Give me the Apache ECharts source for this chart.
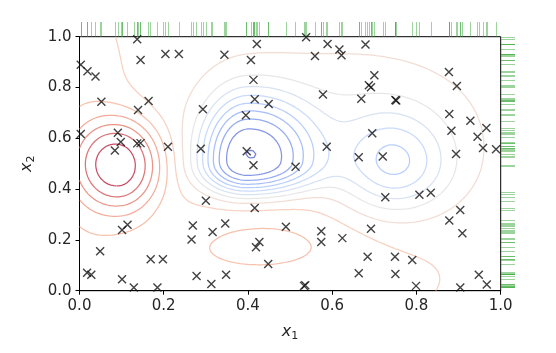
<!DOCTYPE html>
<html>
<head>
<meta charset="utf-8">
<script src="https://cdn.jsdelivr.net/npm/echarts@6/dist/echarts.min.js"></script>
<style>
html,body{margin:0;padding:0;background:#fff}
#chart{width:556px;height:353px}
</style>
</head>
<body>
<div id="chart"></div>
<script>
// sample points (x1, x2)
var ptX = [0.137,0.421,0.204,0.236,0.344,0.145,0.407,0.003,0.019,0.038,0.413,0.052,0.164,0.139,0.293,0.416,0.449,0.395,
  0.003,0.091,0.098,0.084,0.137,0.145,0.210,0.288,0.397,0.413,0.538,0.589,0.617,0.622,0.559,0.679,0.877,0.700,0.687,0.692,
  0.896,0.578,0.669,0.750,0.752,0.878,0.928,0.966,0.883,0.945,0.695,0.587,0.958,0.989,0.894,0.663,0.720,0.513,0.300,0.416,
  0.101,0.114,0.269,0.316,0.346,0.490,0.266,0.427,0.419,0.049,0.169,0.198,0.448,0.018,0.028,0.278,0.348,0.313,0.129,0.185,
  0.101,0.726,0.807,0.834,0.904,0.878,0.574,0.574,0.624,0.692,0.909,0.684,0.749,0.790,0.663,0.750,0.948,0.967,0.533,0.536,
  0.799,0.904];
var ptY = [0.990,0.971,0.932,0.932,0.929,0.908,0.908,0.890,0.864,0.843,0.830,0.744,0.747,0.711,0.714,0.754,0.735,0.691,
  0.617,0.622,0.585,0.552,0.580,0.581,0.567,0.559,0.549,0.494,0.998,0.971,0.950,0.927,0.924,0.969,0.861,0.848,0.809,0.801,
  0.806,0.772,0.756,0.751,0.749,0.696,0.669,0.641,0.630,0.606,0.620,0.567,0.562,0.557,0.538,0.525,0.528,0.488,0.354,0.326,
  0.239,0.260,0.257,0.231,0.265,0.252,0.202,0.192,0.171,0.155,0.124,0.124,0.105,0.071,0.063,0.058,0.063,0.026,0.013,0.013,
  0.045,0.368,0.378,0.386,0.318,0.276,0.234,0.192,0.207,0.244,0.226,0.134,0.134,0.121,0.069,0.066,0.063,0.024,0.019,0.021,
  0.019,0.013];
var tickLabels = ['0.0','0.2','0.4','0.6','0.8','1.0'];

// surface behind the contours: base value plus bumps
// (red peak, left band, blue well, blue well 2, bridge, small ellipse, bottom band)
var surfBase = 0.08;
var bumpCx  = [0.098, 0.00, 0.397, 0.748, 0.62, 0.45, 0.25];
var bumpCy  = [0.498, 0.70, 0.504, 0.495, 0.70, 0.19, 0.05];
var bumpSxL = [0.085, 0.09, 0.085, 0.09,  0.18, 0.15, 0.50];
var bumpSxR = [0.075, 0.09, 0.13,  0.095, 0.18, 0.15, 0.55];
var bumpSyD = [0.14,  0.40, 0.095, 0.13,  0.16, 0.085,0.25];
var bumpSyU = [0.14,  0.40, 0.20,  0.14,  0.16, 0.10, 0.25];
var bumpPow = [1.25,  1.0,  1.3,   1.0,   1.0,  1.0,  1.0];
var bumpAmp = [1.08,  0.25, -1.66, -0.9, -0.22, 0.2,  0.22];
var levels = [-1.6,-1.4,-1.2,-1.0,-0.8,-0.6,-0.4,-0.2,0.0,0.2,0.4,0.6,0.8,1.0,1.2];

// coolwarm
var cmap = [[59,76,192],[98,130,234],[141,176,254],[184,208,249],[221,221,221],[245,196,173],[244,154,123],[222,96,77],[180,4,38]];
function cmapColor(t){
  var p = t*(cmap.length-1), i = Math.min(Math.floor(p), cmap.length-2), f = p-i;
  var c = cmap[i].map(function(v,k){ return Math.round(v+(cmap[i+1][k]-v)*f); });
  return 'rgb('+c.join(',')+')';
}

function field(x,y){
  var v = surfBase;
  for (var k=0;k<bumpAmp.length;k++){
    var dx=(x-bumpCx[k])/(x<bumpCx[k]?bumpSxL[k]:bumpSxR[k]);
    var dy=(y-bumpCy[k])/(y<bumpCy[k]?bumpSyD[k]:bumpSyU[k]);
    v += bumpAmp[k]*Math.exp(-0.5*Math.pow(dx*dx+dy*dy,bumpPow[k]));
  }
  return v;
}

var N = 160;
var grid = [];
for (var j=0;j<=N;j++){
  var row=[];
  for (var i=0;i<=N;i++) row.push(field(i/N,j/N));
  grid.push(row);
}

// marching squares, joined into polylines
var caseTable = {1:[[3,0]],2:[[0,1]],3:[[3,1]],4:[[1,2]],6:[[0,2]],7:[[3,2]],8:[[2,3]],9:[[0,2]],11:[[1,2]],12:[[3,1]],13:[[0,1]],14:[[3,0]]};
function contour(L){
  var segs=[];
  function edgePt(e,i,j){
    var a,b,t;
    if(e===0){a=grid[j][i];b=grid[j][i+1];t=(L-a)/(b-a);return ['h'+i+','+j,[(i+t)/N,j/N]];}
    if(e===2){a=grid[j+1][i];b=grid[j+1][i+1];t=(L-a)/(b-a);return ['h'+i+','+(j+1),[(i+t)/N,(j+1)/N]];}
    if(e===3){a=grid[j][i];b=grid[j+1][i];t=(L-a)/(b-a);return ['v'+i+','+j,[i/N,(j+t)/N]];}
    a=grid[j][i+1];b=grid[j+1][i+1];t=(L-a)/(b-a);return ['v'+(i+1)+','+j,[(i+1)/N,(j+t)/N]];
  }
  for (var j=0;j<N;j++){
    for (var i=0;i<N;i++){
      var a=grid[j][i],b=grid[j][i+1],c=grid[j+1][i+1],d=grid[j+1][i];
      var cs=(a>L?1:0)|(b>L?2:0)|(c>L?4:0)|(d>L?8:0);
      if(cs===0||cs===15) continue;
      var pairs=caseTable[cs];
      if(cs===5||cs===10){
        var up=(a+b+c+d)/4>L;
        pairs = (cs===5)===up ? [[0,1],[2,3]] : [[3,0],[1,2]];
      }
      pairs.forEach(function(p){
        var s=edgePt(p[0],i,j),e=edgePt(p[1],i,j);
        segs.push({k0:s[0],p0:s[1],k1:e[0],p1:e[1]});
      });
    }
  }
  var adj={};
  segs.forEach(function(s,idx){
    (adj[s.k0]=adj[s.k0]||[]).push(idx);
    (adj[s.k1]=adj[s.k1]||[]).push(idx);
  });
  var used=[],out=[];
  function walk(key,line,front){
    while(true){
      var nx=(adj[key]||[]).filter(function(n){return !used[n];})[0];
      if(nx===undefined) break;
      used[nx]=true;
      var t=segs[nx],p;
      if(t.k0===key){p=t.p1;key=t.k1;}else{p=t.p0;key=t.k0;}
      if(front) line.push(p); else line.unshift(p);
    }
  }
  segs.forEach(function(s,idx){
    if(used[idx]) return;
    used[idx]=true;
    var line=[s.p0,s.p1];
    walk(s.k1,line,true);
    walk(s.k0,line,false);
    out.push(line);
  });
  return out;
}

var series=[];
levels.forEach(function(L,li){
  var col=cmapColor(li/(levels.length-1));
  contour(L).forEach(function(line){
    series.push({type:'line',xAxisIndex:0,yAxisIndex:0,data:line,symbol:'none',silent:true,
      lineStyle:{color:col,width:1.25,opacity:0.7},z:1,animation:false});
  });
});

series.push({
  type:'scatter',xAxisIndex:0,yAxisIndex:0,
  data:ptX.map(function(x,i){return [x,ptY[i]];}),
  symbol:'path://M0 0L10 10M10 0L0 10',symbolSize:8,
  itemStyle:{color:'none',borderColor:'#111',borderWidth:1.4},
  z:5,animation:false,silent:true
});
// rugs
series.push({
  type:'lines',coordinateSystem:'cartesian2d',xAxisIndex:1,yAxisIndex:1,
  data:ptX.map(function(x){return {coords:[[x,0],[x,1]]};}),
  lineStyle:{color:'#3caa3c',width:1,opacity:0.5},silent:true,animation:false
});
series.push({
  type:'lines',coordinateSystem:'cartesian2d',xAxisIndex:2,yAxisIndex:2,
  data:ptY.map(function(y){return {coords:[[0,y],[1,y]]};}),
  lineStyle:{color:'#3caa3c',width:1,opacity:0.5},silent:true,animation:false
});

var labelStyle={fontSize:15,color:'#262626',fontFamily:'DejaVu Sans'};
function fmt(v){return tickLabels[Math.round(v/0.2)];}
var nameStyle={color:'#262626',fontFamily:'DejaVu Sans',rich:{
  i:{fontStyle:'italic',fontSize:16,fontFamily:'DejaVu Sans',color:'#262626'},
  s:{fontSize:11,fontFamily:'DejaVu Sans',color:'#262626',padding:[8,0,0,0]}}};
var hidden={show:false};

var chart=echarts.init(document.getElementById('chart'));
chart.setOption({
  animation:false,
  grid:[
    {left:79.5,right:55.3,top:36.7,bottom:62.3,show:true,borderColor:'#000',borderWidth:1},
    {left:79.5,right:55.3,top:22,height:14.7},
    {left:501,width:14,top:36.7,bottom:62.3}
  ],
  xAxis:[
    {type:'value',gridIndex:0,min:0,max:1,interval:0.2,
      axisLine:{show:true,onZero:false,lineStyle:{color:'#000',width:1}},
      axisTick:{show:true,inside:false,length:4,lineStyle:{color:'#000'}},
      axisLabel:Object.assign({margin:8,formatter:fmt},labelStyle),
      splitLine:hidden,name:'{i|x}{s|1}',nameLocation:'middle',nameGap:32,nameTextStyle:nameStyle},
    {type:'value',gridIndex:1,min:0,max:1,show:false},
    {type:'value',gridIndex:2,min:0,max:1,show:false}
  ],
  yAxis:[
    {type:'value',gridIndex:0,min:0,max:1,interval:0.2,
      axisLine:{show:true,onZero:false,lineStyle:{color:'#000',width:1}},
      axisTick:{show:true,inside:false,length:4,lineStyle:{color:'#000'}},
      axisLabel:Object.assign({margin:8,formatter:fmt},labelStyle),
      splitLine:hidden,name:'{i|x}{s|2}',nameLocation:'middle',nameGap:42,nameRotate:90,nameTextStyle:nameStyle},
    {type:'value',gridIndex:1,min:0,max:1,show:false},
    {type:'value',gridIndex:2,min:0,max:1,show:false}
  ],
  series:series
});
</script>
</body>
</html>
